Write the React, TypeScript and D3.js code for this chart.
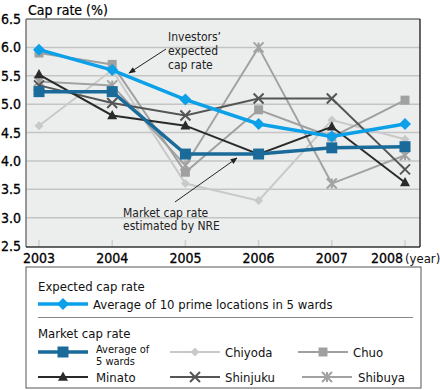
import React from 'react'
import * as d3 from 'd3'

const years = ['2003', '2004', '2005', '2006', '2007', '2008']
const yTicks = [2.5, 3.0, 3.5, 4.0, 4.5, 5.0, 5.5, 6.0, 6.5]

const expected = [5.96, 5.6, 5.08, 4.65, 4.43, 4.65]
const average5 = [5.22, 5.22, 4.12, 4.12, 4.23, 4.25]
const chiyoda = [4.62, 5.6, 3.6, 3.3, 4.72, 4.38]
const chuo = [5.9, 5.7, 3.8, 4.9, 4.42, 5.07]
const minato = [5.52, 4.8, 4.62, 4.12, 4.6, 3.62]
const shinjuku = [5.33, 5.02, 4.8, 5.1, 5.1, 3.85]
const shibuya = [5.4, 5.33, 3.92, 6.0, 3.6, 4.1]

type Marker = 'diamond' | 'square' | 'triangle' | 'cross' | 'asterisk'

const series: { name: string; values: number[]; color: string; width: number; marker: Marker; r: number }[] = [
  { name: 'Chiyoda', values: chiyoda, color: '#c9c9c9', width: 2, marker: 'diamond', r: 4.5 },
  { name: 'Shibuya', values: shibuya, color: '#a2a2a2', width: 2, marker: 'asterisk', r: 5 },
  { name: 'Chuo', values: chuo, color: '#a0a0a0', width: 2, marker: 'square', r: 4.5 },
  { name: 'Shinjuku', values: shinjuku, color: '#555555', width: 2, marker: 'cross', r: 5 },
  { name: 'Minato', values: minato, color: '#2a2a2a', width: 2, marker: 'triangle', r: 5 },
  { name: 'Average of 5 wards', values: average5, color: '#1a6b9a', width: 3.5, marker: 'square', r: 5.5 },
  { name: 'Average of 10 prime locations in 5 wards', values: expected, color: '#0ba0e8', width: 3.5, marker: 'diamond', r: 6 }
]

function markerPath(m: Marker, r: number) {
  switch (m) {
    case 'diamond': return `M0,${-r}L${r},0L0,${r}L${-r},0Z`
    case 'square': return `M${-r},${-r}H${r}V${r}H${-r}Z`
    case 'triangle': return `M0,${-r * 1.1}L${r},${r * 0.75}L${-r},${r * 0.75}Z`
    case 'cross': return `M${-r},${-r}L${r},${r}M${r},${-r}L${-r},${r}`
    case 'asterisk': return `M${-r},${-r}L${r},${r}M${r},${-r}L${-r},${r}M0,${-r}V${r}`
  }
}

function MarkerShape({ m, r, color, x, y }: { m: Marker; r: number; color: string; x: number; y: number }) {
  const stroked = m === 'cross' || m === 'asterisk'
  return (
    <path
      transform={`translate(${x},${y})`}
      d={markerPath(m, r)}
      fill={stroked ? 'none' : color}
      stroke={color}
      strokeWidth={stroked ? 2 : 0}
    />
  )
}

export default function App() {
  const width = 440
  const height = 390
  const left = 26, right = 420, top = 19, bottom = 247

  const x = d3.scalePoint<string>().domain(years).range([39, 405])
  const y = d3.scaleLinear().domain([2.5, 6.5]).range([246, 19])

  const line = d3.line<number>()
    .x((_, i) => x(years[i]) as number)
    .y(d => y(d))

  const font = '"DejaVu Sans Condensed", "DejaVu Sans", sans-serif'
  const byName = (n: string) => series.find(s => s.name === n)!

  const legendRow = (s: typeof series[number], x0: number, yy: number) => (
    <g>
      <line x1={x0} x2={x0 + 50} y1={yy} y2={yy} stroke={s.color} strokeWidth={s.width} />
      <MarkerShape m={s.marker} r={s.r} color={s.color} x={x0 + 25} y={yy} />
    </g>
  )

  return (
    <svg width={width} height={height} style={{ position: 'absolute', left: 0, top: 0, fontFamily: font }}>
      <rect x={0} y={0} width={width} height={height} fill="#ffffff" />
      <rect x={left} y={top} width={right - left} height={bottom - top} fill="#eceeee" />
      {yTicks.slice(1, -1).map(t => (
        <line key={t} x1={left} x2={right} y1={y(t)} y2={y(t)} stroke="#c4c4c4" strokeWidth={1.5} />
      ))}
      {years.map(yr => (
        <line key={yr} x1={x(yr)} x2={x(yr)} y1={bottom - 7} y2={bottom} stroke="#cfcfcf" strokeWidth={1.5} />
      ))}
      <line x1={left} x2={right} y1={top} y2={top} stroke="#333" strokeWidth={1} />
      <line x1={right} x2={right} y1={top} y2={bottom} stroke="#333" strokeWidth={1.5} />
      <line x1={left} x2={left} y1={top} y2={bottom} stroke="#777" strokeWidth={1.5} />
      <line x1={left} x2={right} y1={bottom} y2={bottom} stroke="#333" strokeWidth={1.5} />

      {yTicks.map(t => (
        <text key={t} x={1} y={y(t) + 5} fontSize={14} fill="#000" stroke="#000" strokeWidth={0.3}>{t.toFixed(1)}</text>
      ))}
      {years.map((yr, i) => (
        <text key={yr} x={i === years.length - 1 ? 403 : (x(yr) as number)} y={263}
          textAnchor={i === years.length - 1 ? 'end' : 'middle'} fontSize={14} fill="#000" stroke="#000" strokeWidth={0.3}>{yr}</text>
      ))}
      <text x={405} y={263} fontSize={13} fill="#111">(year)</text>
      <text x={28} y={15} fontSize={14} fill="#000" stroke="#000" strokeWidth={0.2}>Cap rate (%)</text>

      {series.map(s => (
        <g key={s.name}>
          <path d={line(s.values) ?? ''} fill="none" stroke={s.color} strokeWidth={s.width} />
          {s.values.map((v, i) => (
            <MarkerShape key={i} m={s.marker} r={s.r} color={s.color} x={x(years[i]) as number} y={y(v)} />
          ))}
        </g>
      ))}

      <defs>
        <marker id="arr" viewBox="0 0 10 10" refX="9" refY="5" markerWidth="7" markerHeight="7" orient="auto">
          <path d="M0,1L10,5L0,9Z" fill="#222" />
        </marker>
      </defs>
      <g fontSize={12} fill="#222">
        <text x={168} y={41}>Investors’</text>
        <text x={168} y={55}>expected</text>
        <text x={168} y={69}>cap rate</text>
        <line x1={166} y1={49} x2={129} y2={73} stroke="#222" strokeWidth={1} markerEnd="url(#arr)" />
        <text x={123} y={217}>Market cap rate</text>
        <text x={123} y={230}>estimated by NRE</text>
        <line x1={175} y1={202} x2={237} y2={158} stroke="#222" strokeWidth={1} markerEnd="url(#arr)" />
      </g>

      <rect x={26} y={267} width={395} height={121} fill="#fff" stroke="#555" strokeWidth={1} />
      <g fontSize={13} fill="#111">
        <text x={38} y={291}>Expected cap rate</text>
        {legendRow(byName('Average of 10 prime locations in 5 wards'), 38, 304)}
        <text x={93} y={309}>Average of 10 prime locations in 5 wards</text>
        <line x1={38} x2={413} y1={317.5} y2={317.5} stroke="#888" strokeWidth={1} />
        <text x={38} y={338}>Market cap rate</text>
        {legendRow(byName('Average of 5 wards'), 38, 352)}
        <text x={96} y={353} fontSize={11}>Average of</text>
        <text x={96} y={365} fontSize={11}>5 wards</text>
        {legendRow(byName('Chiyoda'), 170, 352)}
        <text x={225} y={357}>Chiyoda</text>
        {legendRow(byName('Chuo'), 298, 352)}
        <text x={353} y={357}>Chuo</text>
        {legendRow(byName('Minato'), 38, 377)}
        <text x={96} y={382}>Minato</text>
        {legendRow(byName('Shinjuku'), 170, 377)}
        <text x={225} y={382}>Shinjuku</text>
        {legendRow(byName('Shibuya'), 302, 377)}
        <text x={358} y={382}>Shibuya</text>
      </g>
    </svg>
  )
}
